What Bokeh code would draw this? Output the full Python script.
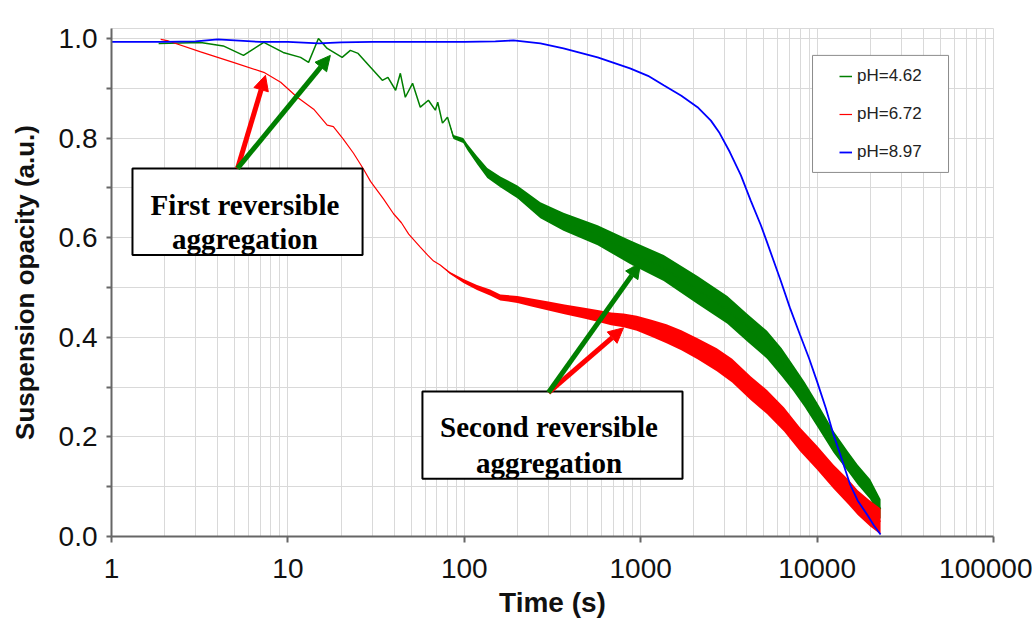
import numpy as np
from bokeh.plotting import figure
from bokeh.models import (Range1d, FixedTicker, NumeralTickFormatter, Arrow, NormalHead,
                          Label, BoxAnnotation, Legend, LegendItem)
from bokeh.embed import file_html
from bokeh.resources import INLINE

# ---------------- data ----------------
green_t = [1.85, 3.2, 4.3, 5.6, 7.3, 9.4, 11.8, 13.1, 14.9, 16.7, 20.3, 22.6, 25.0, 29.4,
           34.3, 36.9, 40.8, 43.4, 46.3, 50.9, 56.3, 62.6, 68.5, 70.7, 75.2, 80.3, 86.8,
           98.6, 104, 118, 135, 160, 200, 270, 365, 570, 870, 1350, 2100, 3100, 4000,
           5200, 6300, 7300, 8500, 10000, 12400, 15000, 17000, 20000, 22900]
green_y = [0.990, 0.992, 0.985, 0.966, 0.992, 0.972, 0.962, 0.952, 1.000, 0.980, 0.962, 0.976,
           0.970, 0.942, 0.916, 0.922, 0.896, 0.930, 0.882, 0.910, 0.862, 0.876, 0.856, 0.872,
           0.830, 0.842, 0.802, 0.795, 0.782, 0.756, 0.730, 0.712, 0.692, 0.655, 0.632, 0.605,
           0.571, 0.539, 0.495, 0.455, 0.420, 0.385, 0.350, 0.319, 0.285, 0.245, 0.190, 0.150,
           0.124, 0.095, 0.055]
green_noise = [0, 0, 0, 0, 0, 0, 0, 0, 0, 0, 0, 0, 0, 0, 0, 0, 0, 0, 0, 0, 0, 0, 0, 0, 0, 0,
               0.004, 0.005, 0.006, 0.008, 0.010, 0.011, 0.013, 0.016, 0.018, 0.020, 0.024,
               0.026, 0.028, 0.028, 0.028, 0.028, 0.028, 0.026, 0.025, 0.024, 0.022, 0.020,
               0.020, 0.020, 0.020]

red_t = [1.9, 2.1, 3.2, 4.9, 7.3, 9.1, 11.3, 14.0, 16.7, 18.1, 20.6, 23.5, 26.8, 29.4, 34.8,
         39.7, 44.0, 48.4, 56.3, 62.0, 67.0, 73.0, 83.0, 99.0, 118, 140, 160, 200, 240, 300,
         370, 470, 570, 680, 800, 950, 1150, 1400, 1700, 2100, 2700, 3300, 4200, 5200, 6500,
         8000, 10000, 12400, 15000, 17000, 20000, 22900]
red_y = [0.998, 0.995, 0.973, 0.952, 0.932, 0.912, 0.882, 0.858, 0.826, 0.823, 0.798, 0.770,
         0.738, 0.713, 0.678, 0.648, 0.630, 0.607, 0.581, 0.565, 0.553, 0.545, 0.529, 0.513,
         0.500, 0.490, 0.480, 0.476, 0.470, 0.463, 0.456, 0.449, 0.443, 0.437, 0.434, 0.428,
         0.418, 0.407, 0.394, 0.377, 0.355, 0.333, 0.298, 0.270, 0.235, 0.195, 0.158, 0.120,
         0.090, 0.068, 0.046, 0.030]
red_noise = [0, 0, 0, 0, 0, 0, 0, 0, 0, 0, 0, 0, 0, 0, 0, 0, 0, 0, 0, 0, 0, 0,
             0.002, 0.004, 0.005, 0.006, 0.006, 0.007, 0.008, 0.009, 0.010, 0.011, 0.012,
             0.013, 0.014, 0.015, 0.017, 0.019, 0.020, 0.021, 0.023, 0.024, 0.024, 0.024,
             0.024, 0.024, 0.024, 0.024, 0.025, 0.025, 0.026, 0.026]

blue_t = [1, 2, 3, 4, 5, 7, 10, 15, 20, 30, 50, 100, 150, 190, 270, 365, 570, 870, 1100,
          1350, 1700, 2100, 2500, 2800, 3200, 3700, 4200, 4800, 5200, 6200, 7000, 8000,
          9000, 10000, 11200, 12400, 13600, 15400, 17000, 19200, 21000, 22900]
blue_y = [0.993, 0.993, 0.994, 0.998, 0.996, 0.993, 0.993, 0.990, 0.992, 0.993, 0.993, 0.993,
          0.994, 0.996, 0.990, 0.980, 0.962, 0.940, 0.925, 0.906, 0.885, 0.862, 0.835, 0.810,
          0.772, 0.725, 0.675, 0.625, 0.591, 0.515, 0.460, 0.405, 0.358, 0.311, 0.258, 0.204,
          0.162, 0.104, 0.072, 0.044, 0.022, 0.004]

series_names = ["pH=4.62", "pH=6.72", "pH=8.97"]
x_ticks = [1, 10, 100, 1000, 10000, 100000]
y_ticks = [0.0, 0.2, 0.4, 0.6, 0.8, 1.0]
y_minor = [0.1, 0.3, 0.5, 0.7, 0.9]

annot1 = ["First reversible", "aggregation"]
annot2 = ["Second reversible", "aggregation"]

# ---------------- figure ----------------
GREEN, RED, BLUE = "#007f00", "#ff0000", "#0000ff"
GRID = "#d9d9d9"

p = figure(width=1032, height=620, x_axis_type="log",
           x_range=Range1d(1, 100000), y_range=Range1d(0, 1.02),
           output_backend="svg", toolbar_location=None,
           min_border_left=111, min_border_right=39, min_border_top=28, min_border_bottom=83)
p.background_fill_color = "white"
p.border_fill_color = "white"
p.outline_line_color = GRID
p.outline_line_width = 1

minor_x = [k * 10 ** d for d in range(5) for k in range(2, 10)]
p.xaxis.ticker = FixedTicker(ticks=x_ticks, minor_ticks=minor_x)
p.xaxis.formatter = NumeralTickFormatter(format="0")
p.yaxis.ticker = FixedTicker(ticks=y_ticks, minor_ticks=y_minor)
p.yaxis.formatter = NumeralTickFormatter(format="0.0")

for ax in (p.xaxis, p.yaxis):
    ax.axis_line_color = "#666666"
    ax.axis_line_width = 2
    ax.major_tick_line_color = "#666666"
    ax.major_tick_line_width = 2
    ax.major_tick_in = 0
    ax.major_label_text_font = "Liberation Sans"
    ax.major_label_text_font_size = "28px"
    ax.major_label_text_color = "#111111"
    ax.axis_label_text_font = "Liberation Sans"
    ax.axis_label_text_font_style = "bold"
    ax.axis_label_text_color = "#111111"

p.xaxis.major_tick_out = 6
p.xaxis.major_label_standoff = 16
p.xaxis.minor_tick_line_color = None
p.xaxis.axis_label = "Time (s)"
p.xaxis.axis_label_text_font_size = "28px"
p.xaxis.axis_label_standoff = 6

p.yaxis.major_tick_out = 5
p.yaxis.minor_tick_out = 5
p.yaxis.minor_tick_in = 0
p.yaxis.minor_tick_line_color = "#666666"
p.yaxis.minor_tick_line_width = 2
p.yaxis.major_label_standoff = 9
p.yaxis.axis_label = "Suspension opacity (a.u.)"
p.yaxis.axis_label_text_font_size = "26px"
p.yaxis.axis_label_standoff = 16

for g in (p.xgrid, p.ygrid):
    g.grid_line_color = GRID
    g.grid_line_width = 1
    g.minor_grid_line_color = GRID
    g.minor_grid_line_width = 1

# ---------------- series ----------------
gt, gy, gn = np.array(green_t), np.array(green_y), np.array(green_noise)
rt, ry, rn = np.array(red_t), np.array(red_y), np.array(red_noise)

p.varea(x=gt, y1=gy - gn, y2=gy + gn, fill_color=GREEN, fill_alpha=1)
r_green = p.line(gt, gy, line_color=GREEN, line_width=1.5)
p.varea(x=rt, y1=ry - rn, y2=ry + rn, fill_color=RED, fill_alpha=1)
r_red = p.line(rt, ry, line_color=RED, line_width=1.2)
r_blue = p.line(blue_t, blue_y, line_color=BLUE, line_width=1.8)

# ---------------- legend ----------------
p.add_layout(BoxAnnotation(left=9420, right=55600, top=0.966, bottom=0.731,
                           fill_color="white", fill_alpha=1,
                           line_color="#8c8c8c", line_alpha=1, line_width=1))
legend = Legend(items=[LegendItem(label=series_names[0], renderers=[r_green]),
                       LegendItem(label=series_names[1], renderers=[r_red]),
                       LegendItem(label=series_names[2], renderers=[r_blue])],
                location=(728, 374), padding=0, margin=0, spacing=18,
                label_height=20, glyph_height=20, glyph_width=13, label_standoff=5,
                label_text_font="Liberation Sans", label_text_font_size="17px",
                label_text_color="#222222", border_line_color=None,
                background_fill_alpha=0)
p.add_layout(legend)

# ---------------- annotation boxes ----------------
p.add_layout(BoxAnnotation(left=1.315, right=26.5, top=0.739, bottom=0.565,
                           fill_color="white", fill_alpha=1, line_color="black",
                           line_alpha=1, line_width=2))
p.add_layout(BoxAnnotation(left=57.9, right=1726, top=0.291, bottom=0.116,
                           fill_color="white", fill_alpha=1, line_color="black",
                           line_alpha=1, line_width=2))

for txt, xx, yy in [(annot1[0], 5.71, 0.665), (annot1[1], 5.71, 0.597),
                    (annot2[0], 302, 0.220), (annot2[1], 302, 0.148)]:
    p.add_layout(Label(x=xx, y=yy, text=txt, text_align="center", text_baseline="alphabetic",
                       text_font="Liberation Serif", text_font_style="bold",
                       text_font_size="29px", text_color="black"))

# ---------------- arrows ----------------
for (x0, y0, x1, y1, c) in [(5.18, 0.739, 7.46, 0.926, RED),
                            (5.18, 0.739, 17.4, 0.966, GREEN),
                            (300, 0.289, 799, 0.419, RED),
                            (300, 0.289, 997, 0.549, GREEN)]:
    p.add_layout(Arrow(end=NormalHead(size=15, fill_color=c, line_color=c, line_width=1),
                       x_start=x0, y_start=y0, x_end=x1, y_end=y1,
                       line_color=c, line_width=5))

open("out.html", "w").write(file_html(p, INLINE))
